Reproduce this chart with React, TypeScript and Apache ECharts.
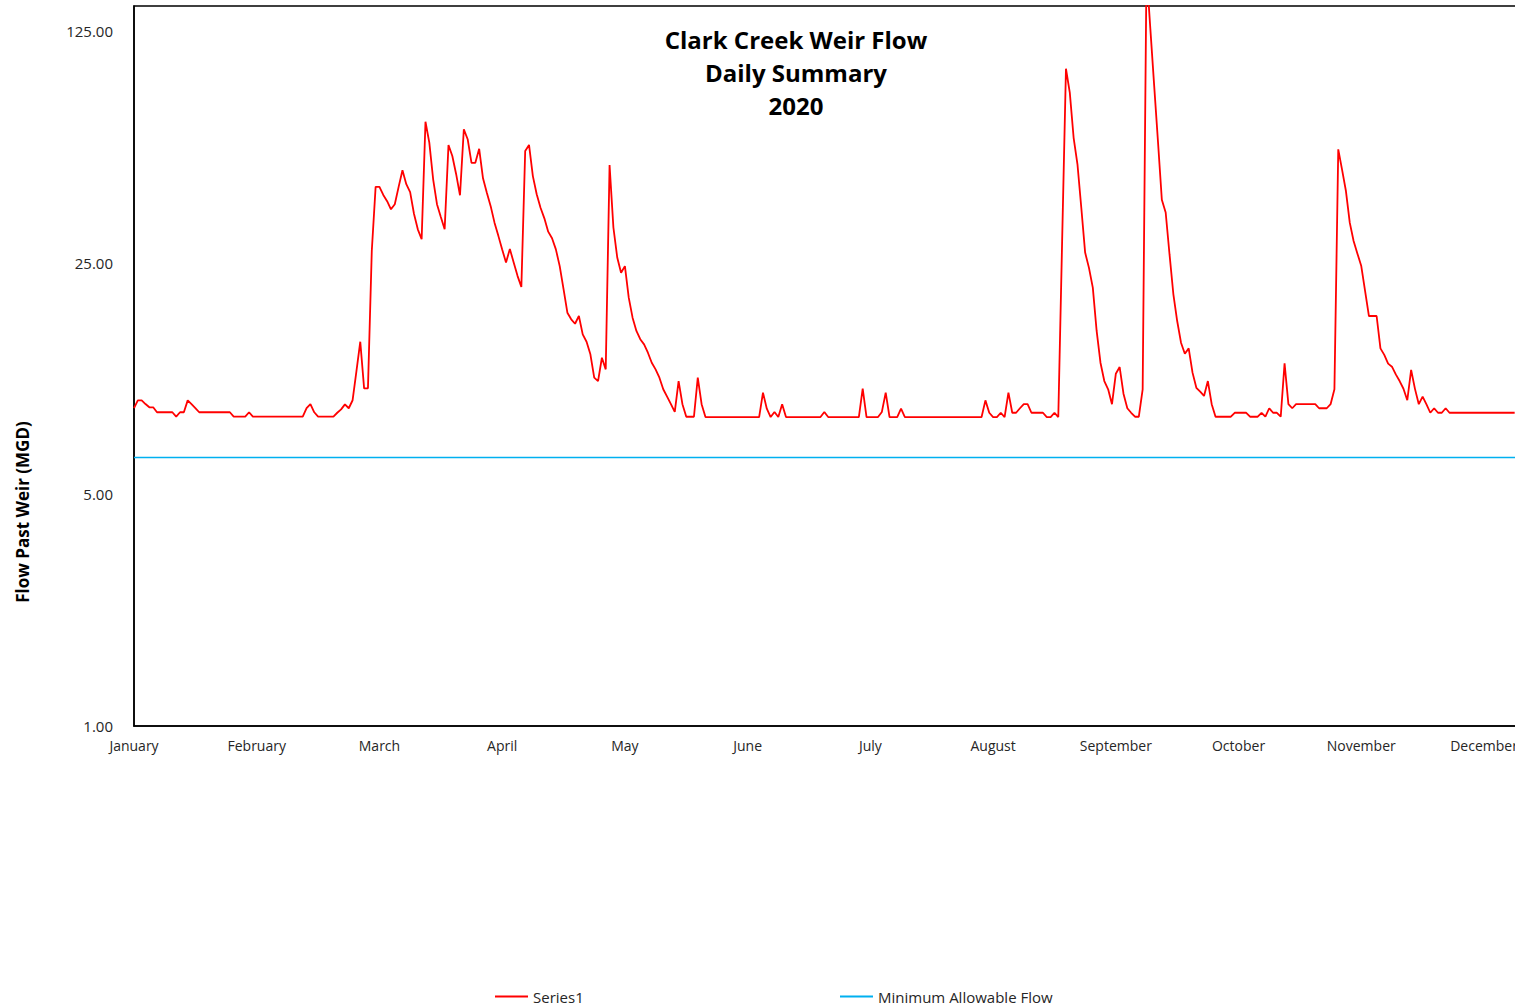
import React, { useEffect, useRef } from "react";
import * as echarts from "echarts";

// Month names shown along the day axis, one every DAYS_PER_LABEL categories
const monthLabels = [
  "January", "February", "March", "April", "May", "June",
  "July", "August", "September", "October", "November", "December",
];
const DAYS_PER_LABEL = 32;
const DAY_COUNT = 366;

// Daily flow past the weir (MGD), 2020
const dailyFlow = [
  9.10, 9.60, 9.60, 9.36, 9.15, 9.15, 8.84, 8.84, 8.84, 8.84,
  8.84, 8.58, 8.84, 8.84, 9.60, 9.35, 9.10, 8.84, 8.84, 8.84,
  8.84, 8.84, 8.84, 8.84, 8.84, 8.84, 8.58, 8.58, 8.58, 8.58,
  8.84, 8.58, 8.58, 8.58, 8.58, 8.58, 8.58, 8.58, 8.58, 8.58,
  8.58, 8.58, 8.58, 8.58, 8.58, 9.10, 9.36, 8.84, 8.58, 8.58,
  8.58, 8.58, 8.58, 8.81, 9.02, 9.34, 9.09, 9.61, 11.77, 14.43,
  10.44, 10.44, 27.1, 42.3, 42.3, 40.0, 38.3, 36.2, 37.5, 42.3,
  47.5, 43.1, 40.8, 35.1, 31.5, 29.4, 66.5, 57.5, 44.6, 37.5,
  34.3, 31.5, 56.6, 52.4, 46.2, 39.9, 63.1, 58.9, 50.0, 50.0,
  55.1, 44.9, 40.6, 37.0, 33.0, 30.1, 27.4, 25.0, 27.5, 25.0,
  22.8, 21.1, 54.3, 56.6, 45.6, 40.2, 36.6, 34.0, 31.0, 29.6,
  27.4, 24.4, 20.8, 17.65, 16.86, 16.35, 17.25, 15.19, 14.43, 13.22,
  11.24, 10.98, 12.91, 11.91, 49.2, 31.9, 25.9, 23.3, 24.4, 19.6,
  17.05, 15.55, 14.68, 14.17, 13.37, 12.47, 11.91, 11.24, 10.37, 9.85,
  9.35, 8.86, 10.98, 9.35, 8.57, 8.57, 8.57, 11.24, 9.35, 8.55,
  8.55, 8.55, 8.55, 8.55, 8.55, 8.55, 8.55, 8.55, 8.55, 8.55,
  8.55, 8.55, 8.55, 8.55, 10.13, 9.06, 8.55, 8.86, 8.55, 9.35,
  8.55, 8.55, 8.55, 8.55, 8.55, 8.55, 8.55, 8.55, 8.55, 8.55,
  8.86, 8.55, 8.55, 8.55, 8.55, 8.55, 8.55, 8.55, 8.55, 8.55,
  10.41, 8.55, 8.55, 8.55, 8.55, 8.86, 10.13, 8.55, 8.55, 8.55,
  9.06, 8.55, 8.55, 8.55, 8.55, 8.55, 8.55, 8.55, 8.55, 8.55,
  8.55, 8.55, 8.55, 8.55, 8.55, 8.55, 8.55, 8.55, 8.55, 8.55,
  8.55, 8.55, 9.60, 8.81, 8.55, 8.55, 8.81, 8.55, 10.13, 8.81,
  8.81, 9.09, 9.35, 9.35, 8.81, 8.81, 8.81, 8.81, 8.55, 8.55,
  8.81, 8.55, 29.0, 96.1, 81.4, 59.5, 49.5, 36.6, 26.8, 24.1,
  21.0, 15.55, 12.47, 10.98, 10.37, 9.35, 11.55, 12.1, 10.06, 9.09,
  8.81, 8.57, 8.57, 10.37, 190, 127, 85.5, 57.8, 38.7, 35.4,
  26.5, 20.1, 16.66, 14.33, 13.28, 13.78, 11.64, 10.48, 10.2, 9.9,
  10.98, 9.35, 8.57, 8.57, 8.57, 8.57, 8.57, 8.81, 8.81, 8.81,
  8.81, 8.57, 8.57, 8.57, 8.81, 8.57, 9.09, 8.81, 8.81, 8.57,
  12.42, 9.35, 9.09, 9.35, 9.35, 9.35, 9.35, 9.35, 9.35, 9.09,
  9.09, 9.09, 9.35, 10.37, 54.9, 47.6, 41.1, 33.0, 29.05, 26.6,
  24.4, 20.5, 17.25, 17.25, 17.25, 13.78, 13.17, 12.39, 12.13, 11.5,
  10.98, 10.41, 9.61, 11.86, 10.4, 9.35, 9.85, 9.34, 8.81, 9.09,
  8.81, 8.81, 9.09, 8.81, 8.81, 8.81, 8.81, 8.81, 8.81, 8.81,
  8.81, 8.81, 8.81, 8.81, 8.81, 8.81, 8.81, 8.81, 8.81, 8.81,
  8.81,
];

// Regulatory minimum flow (MGD)
const minimumAllowableFlow = 6.46;

// Log-5 value axis: 1, 5, 25, 125 and a little headroom above
const Y_MIN = 1;
const Y_MAX = 148.6;

const FONT = '"Open Sans", "Noto Sans", sans-serif';
const TEXT_COLOR = "#262626";

// Visible frame and the wider drawing surface behind it (the plot runs past the right edge)
const VIEW_W = 1515;
const VIEW_H = 1008;
const CHART_W = 1560;

const categories = Array.from({ length: DAY_COUNT }, (_, i) => String(i + 1));

export default function App() {
  const ref = useRef<HTMLDivElement>(null);

  useEffect(() => {
    if (!ref.current) return;
    const chart = echarts.init(ref.current, undefined, { renderer: "svg" });

    const plotLeft = 134;
    const dayWidth = 1350 / (11 * DAYS_PER_LABEL);
    const plotRight = plotLeft + (DAY_COUNT - 1) * dayWidth;

    chart.setOption({
      animation: false,
      backgroundColor: "#ffffff",
      title: {
        text: "Clark Creek Weir Flow\nDaily Summary\n2020",
        left: 796,
        top: 23,
        padding: 0,
        textAlign: "center",
        textStyle: {
          fontFamily: FONT,
          fontWeight: "bold",
          fontSize: 24,
          lineHeight: 33,
          color: "#000000",
        },
      },
      legend: [
        {
          data: ["Series1"],
          left: 495,
          top: 989,
          padding: 0,
          icon: "rect",
          itemWidth: 33,
          itemHeight: 2,
          textStyle: { fontFamily: FONT, fontSize: 15, color: TEXT_COLOR },
        },
        {
          data: ["Minimum Allowable Flow"],
          left: 840,
          top: 989,
          padding: 0,
          icon: "rect",
          itemWidth: 33,
          itemHeight: 2,
          textStyle: { fontFamily: FONT, fontSize: 15, color: TEXT_COLOR },
        },
      ],
      graphic: [
        {
          type: "text",
          x: 22,
          y: 512,
          rotation: Math.PI / 2,
          style: {
            text: "Flow Past Weir (MGD)",
            font: `bold 17px ${FONT}`,
            fill: "#000000",
            textAlign: "center",
            textVerticalAlign: "middle",
          },
        },
      ],
      grid: {
        left: plotLeft,
        right: CHART_W - plotRight,
        top: 6,
        bottom: 282,
        show: true,
        borderColor: "#000000",
        borderWidth: 1.5,
        containLabel: false,
      },
      xAxis: {
        type: "category",
        data: categories,
        boundaryGap: false,
        axisLine: { show: true, lineStyle: { color: "#000000", width: 1.5 } },
        axisTick: { show: false },
        splitLine: { show: false },
        axisLabel: {
          interval: DAYS_PER_LABEL - 1,
          formatter: (_v: string, idx: number) =>
            monthLabels[Math.floor(idx / DAYS_PER_LABEL)] ?? "",
          fontFamily: FONT,
          fontSize: 14,
          color: TEXT_COLOR,
          margin: 12,
        },
      },
      yAxis: {
        type: "log",
        logBase: 5,
        min: Y_MIN,
        max: Y_MAX,
        axisLine: { show: true, lineStyle: { color: "#000000", width: 1.5 } },
        axisTick: { show: false },
        splitLine: { show: false },
        axisLabel: {
          showMaxLabel: false,
          formatter: (v: number) => v.toFixed(2),
          fontFamily: FONT,
          fontSize: 15,
          color: TEXT_COLOR,
          margin: 21,
        },
      },
      series: [
        {
          name: "Series1",
          type: "line",
          data: dailyFlow,
          showSymbol: false,
          symbol: "none",
          clip: true,
          lineStyle: { color: "#FF0000", width: 1.8 },
          itemStyle: { color: "#FF0000" },
        },
        {
          name: "Minimum Allowable Flow",
          type: "line",
          data: [
            [0, minimumAllowableFlow],
            [DAY_COUNT - 1, minimumAllowableFlow],
          ],
          showSymbol: false,
          symbol: "none",
          lineStyle: { color: "#00B0F0", width: 1.5 },
          itemStyle: { color: "#00B0F0" },
        },
      ],
    });

    return () => chart.dispose();
  }, []);

  return (
    <div
      style={{
        position: "absolute",
        left: 0,
        top: 0,
        width: VIEW_W,
        height: VIEW_H,
        overflow: "hidden",
        background: "#ffffff",
      }}
    >
      <div ref={ref} style={{ width: CHART_W, height: VIEW_H }} />
    </div>
  );
}
